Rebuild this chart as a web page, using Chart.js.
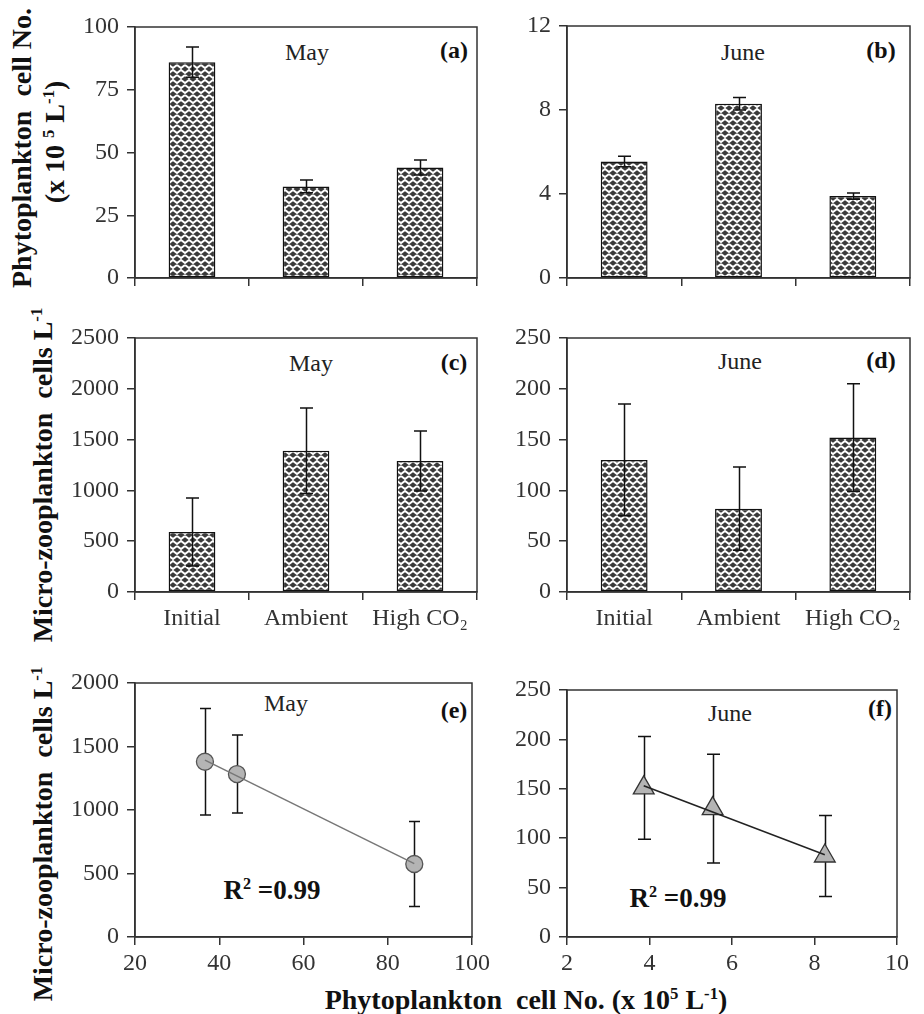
<!DOCTYPE html>
<html><head><meta charset="utf-8">
<script src="https://cdn.jsdelivr.net/npm/chart.js@4.4.1/dist/chart.umd.min.js"></script>
<style>
html,body{margin:0;padding:0;background:#fff;}
#wrap{position:relative;width:924px;height:1014px;overflow:hidden;font-family:'Liberation Serif','Times New Roman',serif;color:#111;}
canvas{position:absolute;}
.t{position:absolute;transform:translate(-50%,-50%);white-space:nowrap;line-height:1;}
.r{transform:translate(-50%,-50%) rotate(-90deg);}
.m{font-size:24px;color:#222;}
.p{font-size:24px;font-weight:bold;}
.ti{font-size:28px;font-weight:bold;}
sup{font-size:60%;vertical-align:0;position:relative;top:-0.6em;line-height:0;}
</style></head>
<body>
<div id="wrap">
  <div class="t r ti" style="left:22px;top:148px;">Phytoplankton&nbsp;&nbsp;cell No.</div>
  <div class="t r ti" style="left:55px;top:142px;">(x 10 <sup>5</sup> L<sup>-1</sup>)</div>
  <div class="t r ti" style="left:43px;top:475px;">Micro-zooplankton&nbsp;&nbsp;cells L<sup>-1</sup></div>
  <div class="t r ti" style="left:43px;top:834px;">Micro-zooplankton&nbsp;&nbsp;cells L<sup>-1</sup></div>
  <div class="t ti" style="left:526px;top:1000px;">Phytoplankton&nbsp;&nbsp;cell No. (x 10<sup>5</sup> L<sup>-1</sup>)</div>

  <div class="t m" style="left:307px;top:52px;">May</div>
  <div class="t p" style="left:454px;top:50px;">(a)</div>
  <div class="t m" style="left:743px;top:52px;">June</div>
  <div class="t p" style="left:881px;top:50px;">(b)</div>
  <div class="t m" style="left:311px;top:363px;">May</div>
  <div class="t p" style="left:454px;top:362px;">(c)</div>
  <div class="t m" style="left:740px;top:361px;">June</div>
  <div class="t p" style="left:881px;top:360px;">(d)</div>
  <div class="t m" style="left:286px;top:703px;">May</div>
  <div class="t p" style="left:454px;top:710px;">(e)</div>
  <div class="t m" style="left:730px;top:713px;">June</div>
  <div class="t p" style="left:880px;top:708px;">(f)</div>
  <div class="t ti" style="left:272px;top:890px;font-size:27px;">R<sup>2</sup> =0.99</div>
  <div class="t ti" style="left:678px;top:898px;font-size:27px;">R<sup>2</sup> =0.99</div>
</div>
<script>
// ---------------- DATA ----------------
const categories = ['Initial', 'Ambient', 'High CO₂'];
// (a) phytoplankton, May (x10^5 L-1)
const phytoMay = [86, 36.5, 44];
const phytoMayErr = [6, 2.5, 3];
// (b) phytoplankton, June
const phytoJune = [5.55, 8.3, 3.9];
const phytoJuneErr = [0.25, 0.3, 0.15];
// (c) micro-zooplankton, May (cells L-1)
const zooMay = [590, 1390, 1290];
const zooMayErr = [335, 420, 295];
// (d) micro-zooplankton, June
const zooJune = [130, 82, 152];
const zooJuneErr = [55, 41, 53];
// (e) scatter May
const scatMayX = [36.6, 44.2, 86.3];
const scatMayY = [1380, 1283, 575];
const scatMayErr = [420, 307, 335];
// (f) scatter June
const scatJuneX = [3.86, 5.53, 8.25];
const scatJuneY = [151, 130, 82];
const scatJuneErr = [52, 55, 41];
// axis ranges [min, max, step]
const yAxisA = [0, 100, 25];
const yAxisB = [0, 12, 4];
const yAxisC = [0, 2500, 500];
const yAxisD = [0, 250, 50];
const yAxisE = [0, 2000, 500];
const yAxisF = [0, 250, 50];
const xAxisE = [20, 100, 20];
const xAxisF = [2, 10, 2];

// ---------------- HELPERS ----------------
Chart.defaults.font.family = "'Liberation Serif','Times New Roman',serif";
Chart.defaults.animation = false;
Chart.defaults.devicePixelRatio = 1;
const AX = '#333';
const TICKFONT = {size:24, lineHeight:1.25};

function makePattern(ctx){
  const c = document.createElement('canvas'); c.width = 8; c.height = 10;
  const g = c.getContext('2d');
  g.fillStyle = '#3a3a3a'; g.fillRect(0,0,8,10);
  g.strokeStyle = '#fff'; g.lineWidth = 2;
  g.beginPath(); g.moveTo(0,1); g.lineTo(4,4); g.lineTo(8,1); g.stroke();
  g.beginPath(); g.moveTo(-4,6); g.lineTo(0,9); g.lineTo(4,6); g.lineTo(8,9); g.lineTo(12,6); g.stroke();
  return ctx.createPattern(c, 'repeat');
}

const frame = {
  id:'frame',
  afterDraw(chart){
    const {ctx, chartArea:a} = chart;
    ctx.save(); ctx.strokeStyle = AX; ctx.lineWidth = 1.5;
    ctx.strokeRect(a.left, a.top, a.right-a.left, a.bottom-a.top);
    ctx.restore();
  }
};

function drawErr(chart, opts){
  const di = opts.dataset || 0;
  const meta = chart.getDatasetMeta(di);
  const ys = chart.scales.y, ctx = chart.ctx;
  ctx.save(); ctx.strokeStyle = '#111'; ctx.lineWidth = 1.5;
  meta.data.forEach((el, i) => {
    const raw = chart.data.datasets[di].data[i];
    const v = typeof raw === 'object' ? raw.y : raw;
    const e = opts.errors[i];
    const x = Math.round(el.x) + 0.5, y1 = ys.getPixelForValue(v + e), y2 = ys.getPixelForValue(v - e);
    const h = opts.cap;
    ctx.beginPath();
    ctx.moveTo(x, y1); ctx.lineTo(x, y2);
    ctx.moveTo(x-h, y1); ctx.lineTo(x+h, y1);
    ctx.moveTo(x-h, y2); ctx.lineTo(x+h, y2);
    ctx.stroke();
  });
  ctx.restore();
}
const errAfter = { id:'errAfter', afterDatasetsDraw(chart, args, opts){ if (opts.errors) drawErr(chart, opts); } };
const errBefore = { id:'errBefore', beforeDatasetsDraw(chart, args, opts){ if (opts.errors) drawErr(chart, opts); } };

function addCanvas(left, top, w, h){
  const c = document.createElement('canvas');
  c.width = w; c.height = h;
  c.style.left = left + 'px'; c.style.top = top + 'px';
  c.style.width = w + 'px'; c.style.height = h + 'px';
  document.getElementById('wrap').appendChild(c);
  return c;
}

function yScale(r){
  return {
    min:r[0], max:r[1],
    afterFit(s){ s.width = 70; },
    ticks:{stepSize:r[2], font:TICKFONT, color:'#333', padding:8, callback:v=>String(v)},
    grid:{display:true, drawOnChartArea:false, tickLength:8, color:AX, lineWidth:1.5},
    border:{color:AX, width:1.5}
  };
}

function barChart(left, top, w, h, xh, vals, errs, yr, showLabels){
  const c = addCanvas(left, top, w, h);
  const ctx = c.getContext('2d');
  return new Chart(ctx, {
    type:'bar',
    data:{labels:categories, datasets:[{
      data:vals, backgroundColor:makePattern(ctx), borderColor:'#111', borderWidth:1.5,
      borderSkipped:false, categoryPercentage:1, barPercentage:0.41
    }]},
    options:{
      responsive:false, maintainAspectRatio:false,
      layout:{padding:{top:0, right:6, left:0, bottom:0}},
      plugins:{legend:{display:false}, tooltip:{enabled:false}, errAfter:{errors:errs, cap:6.5}},
      scales:{
        x:{
          afterFit(s){ s.height = xh; },
          ticks:{font:TICKFONT, color:'#333', padding:4, callback:(v,i)=> showLabels ? categories[i] : ''},
          grid:{display:true, drawOnChartArea:false, tickLength:8, color:AX, lineWidth:1.5, offset:true},
          border:{color:AX, width:1.5}
        },
        y:yScale(yr)
      }
    },
    plugins:[errAfter, frame]
  });
}

function linFit(xs, ys){
  const n = xs.length;
  const mx = xs.reduce((a,b)=>a+b,0)/n, my = ys.reduce((a,b)=>a+b,0)/n;
  let sxy=0, sxx=0;
  for (let i=0;i<n;i++){ sxy += (xs[i]-mx)*(ys[i]-my); sxx += (xs[i]-mx)**2; }
  const b = sxy/sxx, a = my - b*mx;
  const x0 = Math.min(...xs), x1 = Math.max(...xs);
  return [{x:x0, y:a+b*x0}, {x:x1, y:a+b*x1}];
}

function scatterChart(left, top, w, h, xs, ys, errs, xr, yr, style){
  const c = addCanvas(left, top, w, h);
  const ctx = c.getContext('2d');
  const pts = xs.map((x,i)=>({x, y:ys[i]}));
  return new Chart(ctx, {
    type:'scatter',
    data:{datasets:[
      {data:pts, pointStyle:style.shape, pointRadius:style.r, pointBackgroundColor:'#b4b4b4',
       pointBorderColor:style.pb, pointBorderWidth:1.3, showLine:false, order:2},
      {type:'line', data:linFit(xs, ys), borderColor:style.line, borderWidth:1.5, pointRadius:0, showLine:true, order:1}
    ]},
    options:{
      responsive:false, maintainAspectRatio:false,
      layout:{padding:{top:0, right:22, left:0, bottom:0}},
      plugins:{legend:{display:false}, tooltip:{enabled:false}, errBefore:{errors:errs, cap:style.cap, dataset:0}},
      scales:{
        x:{
          type:'linear', min:xr[0], max:xr[1],
          afterFit(s){ s.height = 45; },
          ticks:{stepSize:xr[2], font:TICKFONT, color:'#333', padding:4},
          grid:{display:true, drawOnChartArea:false, tickLength:8, color:AX, lineWidth:1.5},
          border:{color:AX, width:1.5}
        },
        y:yScale(yr)
      }
    },
    plugins:[errBefore, frame]
  });
}

// ---------------- CHARTS ----------------
// vertical tick-label padding of the y axis is 23px (half label height 15 + padding 8)
barChart(65, 4, 418, 297, 14, phytoMay, phytoMayErr, yAxisA, false);
barChart(497, 3, 419, 298, 14, phytoJune, phytoJuneErr, yAxisB, false);
barChart(65, 315, 418, 322, 45, zooMay, zooMayErr, yAxisC, true);
barChart(497, 315, 419, 322, 45, zooJune, zooJuneErr, yAxisD, true);
scatterChart(65, 660, 429, 322, scatMayX, scatMayY, scatMayErr, xAxisE, yAxisE,
  {shape:'circle', r:8.5, pb:'#555', line:'#777', cap:5.5});
scatterChart(497, 667, 422, 315, scatJuneX, scatJuneY, scatJuneErr, xAxisF, yAxisF,
  {shape:'triangle', r:12, pb:'#333', line:'#222', cap:6.5});
</script>
</body></html>
